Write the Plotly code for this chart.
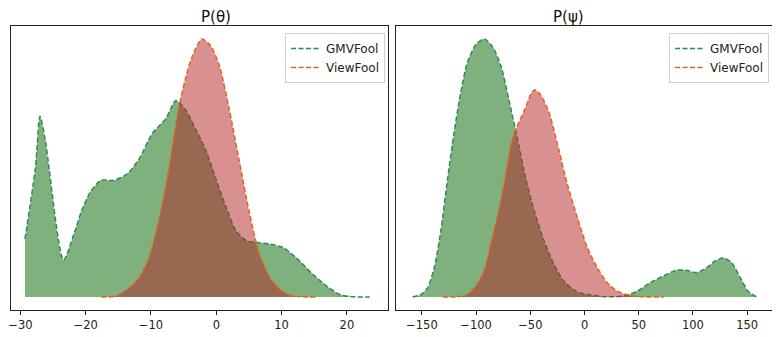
import plotly.graph_objects as go
from plotly.subplots import make_subplots

# P(theta) - values (density scaled so the highest peak = 1)
theta_gmv_x = [-29.3, -27.7, -27.0, -26.2, -23.4, -21.8, -20.6, -19.3, -17.7, -15.7, -13.6, -11.8,
               -9.8, -7.7, -6.2, -4.7, -3.1, -1.6, 0.0, 1.5, 3.0, 4.6, 6.1, 8.2, 10.2, 12.2,
               14.8, 16.9, 18.9, 20.5, 23.5]
theta_gmv_y = [0.225, 0.50, 0.70, 0.61, 0.143, 0.244, 0.335, 0.406, 0.452, 0.452, 0.478, 0.536,
               0.634, 0.692, 0.761, 0.725, 0.647, 0.569, 0.452, 0.348, 0.257, 0.218, 0.212, 0.205,
               0.192, 0.153, 0.088, 0.043, 0.010, 0.002, 0.0]
theta_vf_x = [-17.6, -15.4, -13.4, -11.8, -10.3, -8.8, -7.2, -5.7, -4.2, -3.1, -2.2, -0.8, 0.5,
              2.0, 3.5, 5.1, 6.6, 8.2, 9.7, 11.2, 13.3, 15.3]
theta_vf_y = [0.0, 0.004, 0.034, 0.075, 0.153, 0.296, 0.504, 0.738, 0.894, 0.965, 1.0, 0.971,
              0.894, 0.725, 0.53, 0.322, 0.166, 0.075, 0.03, 0.008, 0.001, 0.0]

# P(psi)
psi_gmv_x = [-158.6, -150.8, -144.7, -138.6, -132.5, -126.5, -120.4, -114.3, -108.2, -100.2, -92.6,
             -85.0, -77.0, -69.8, -61.7, -54.6, -46.5, -37.4, -28.3, -19.2, -7.1, 5.6, 20.8, 36.2,
             48.5, 60.7, 72.9, 85.0, 94.1, 103.2, 112.8, 120.4, 128.2, 135.6, 143.7, 150.8, 159.0]
psi_gmv_y = [0.0, 0.01, 0.036, 0.114, 0.257, 0.452, 0.634, 0.79, 0.906, 0.978, 1.0, 0.971, 0.894,
             0.764, 0.608, 0.465, 0.335, 0.218, 0.127, 0.062, 0.021, 0.008, 0.001, 0.004, 0.023,
             0.056, 0.082, 0.104, 0.104, 0.095, 0.114, 0.14, 0.151, 0.134, 0.075, 0.023, 0.0]
psi_vf_x = [-130.6, -117.4, -108.2, -100.2, -92.6, -86.5, -79.8, -73.6, -67.5, -62.8, -55.2, -49.1,
            -46.0, -40.5, -32.5, -25.2, -16.0, -6.7, 2.5, 11.7, 20.9, 30.0, 42.3, 54.6, 73.0]
psi_vf_y = [0.0, 0.001, 0.01, 0.043, 0.101, 0.205, 0.322, 0.452, 0.595, 0.655, 0.725, 0.79, 0.803,
            0.783, 0.712, 0.595, 0.439, 0.309, 0.192, 0.114, 0.056, 0.023, 0.006, 0.001, 0.0]

titles = ['P(θ)', 'P(ψ)']
names = ['GMVFool', 'ViewFool']
line_colors = ['#2e8b57', '#e8601c']
fill_colors = ['rgba(0,100,0,0.5)', 'rgba(178,34,34,0.5)']

# page body has an 8px margin, so the figure is sized to the visible area
W, H, OFF = 772, 329, 8
def px(x):
    return (x - OFF) / W
def py(y):
    return 1 - (y - OFF) / H

fig = make_subplots(rows=1, cols=2)

panels = [
    [(theta_gmv_x, theta_gmv_y), (theta_vf_x, theta_vf_y)],
    [(psi_gmv_x, psi_gmv_y), (psi_vf_x, psi_vf_y)],
]
for col, series in enumerate(panels, start=1):
    legend_id = 'legend' if col == 1 else 'legend2'
    for i, (xs, ys) in enumerate(series):
        fig.add_trace(go.Scatter(x=xs, y=ys, mode='lines', fill='tozeroy',
                                 fillcolor=fill_colors[i], line=dict(width=0, shape='spline', smoothing=0.7),
                                 showlegend=False, hoverinfo='skip'), row=1, col=col)
        fig.add_trace(go.Scatter(x=xs, y=ys, mode='lines', name=names[i], legend=legend_id,
                                 line=dict(color=line_colors[i], width=1.5, dash='5px,2.5px',
                                           shape='spline', smoothing=0.7)),
                      row=1, col=col)

axis_style = dict(showgrid=False, zeroline=False, showline=True, mirror=True,
                  linecolor='#222', linewidth=1)
fig.update_xaxes(**axis_style, ticks='outside', ticklen=4, tickcolor='#222',
                 ticklabeloverflow='allow', tickfont=dict(size=11.5, color='#222'))
fig.update_yaxes(**axis_style, showticklabels=False, range=[-0.05, 1.05])
fig.update_xaxes(domain=[px(8.6), px(387)], range=[-31.5, 26.3], tickvals=[-30, -20, -10, 0, 10, 20],
                 ticktext=['−30', '−20', '−10', '0', '10', '20'], row=1, col=1)
fig.update_xaxes(domain=[px(395), px(776)], range=[-173.9, 176.6],
                 tickvals=[-150, -100, -50, 0, 50, 100, 150],
                 ticktext=['−150', '−100', '−50', '0', '50', '100', '150'], row=1, col=2)
fig.update_yaxes(domain=[py(310), py(26)])

for k, t in enumerate(titles):
    fig.add_annotation(text=t, x=px(197 if k == 0 else 585.5), y=py(17),
                       xref='paper', yref='paper', showarrow=False, yanchor='middle',
                       font=dict(size=15, color='#111'))

legend_style = dict(xanchor='right', yanchor='top', y=py(33), bgcolor='rgba(255,255,255,0.8)',
                    bordercolor='#d0d0d0', borderwidth=1, font=dict(size=12, color='#222'),
                    tracegroupgap=0, itemwidth=30)
fig.update_layout(
    width=W, height=H,
    margin=dict(l=0, r=0, t=0, b=0),
    plot_bgcolor='white', paper_bgcolor='white',
    font=dict(family='DejaVu Sans'),
    legend=dict(x=px(384), **legend_style),
    legend2=dict(x=px(769), **legend_style),
)

fig.write_html("out.html")
